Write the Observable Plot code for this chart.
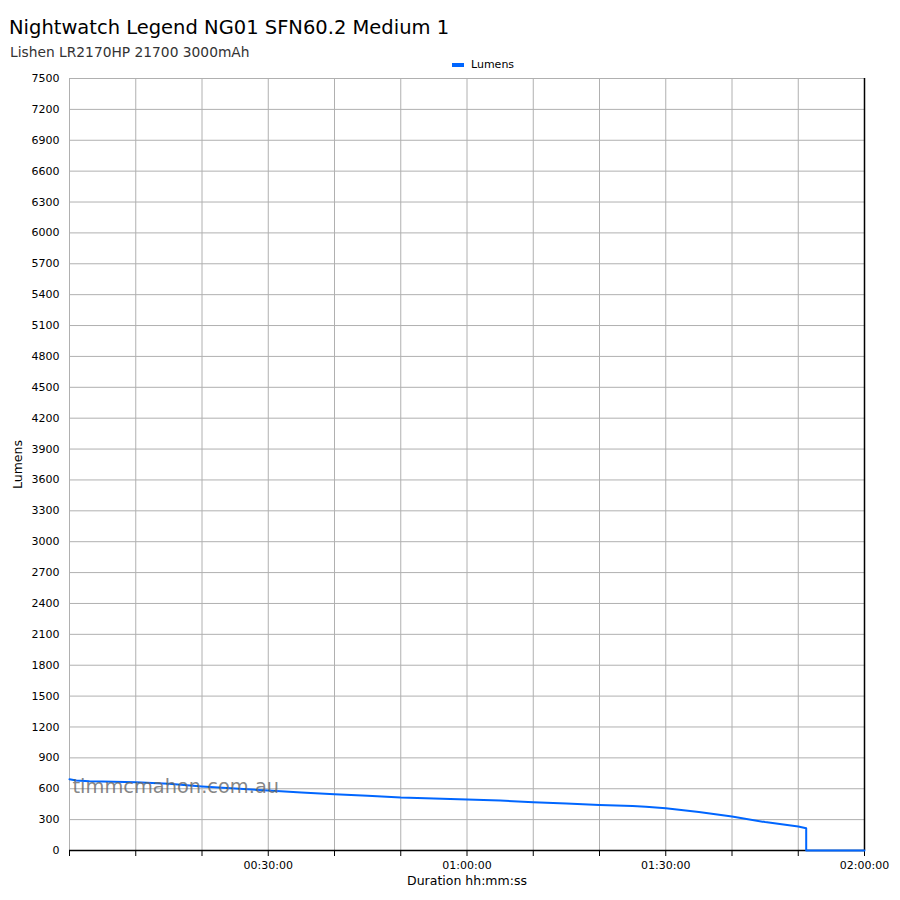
<!DOCTYPE html>
<html>
<head>
<meta charset="utf-8">
<script src="https://cdn.jsdelivr.net/npm/d3@7"></script>
<script src="https://cdn.jsdelivr.net/npm/@observablehq/plot@0.6"></script>
<style>
  html, body { margin: 0; padding: 0; background: #fff; }
  body { width: 900px; height: 900px; position: relative; font-family: "DejaVu Sans", sans-serif; overflow: hidden; }
  #head { position: relative; height: 70px; }
  #title { position: absolute; left: 9px; top: 16px; font-size: 19.5px; color: #000; white-space: nowrap; }
  #subtitle { position: absolute; left: 10px; top: 44px; font-size: 13.8px; color: #333; white-space: nowrap; }
  #legend { position: absolute; left: 452px; top: 58px; font-size: 11px; color: #000; display: flex; align-items: center; white-space: nowrap; }
  #legend .sw { width: 12px; height: 4px; background: #0066ff; margin-right: 7px; }
  #chart svg { display: block; }
</style>
</head>
<body>
<div id="head">
  <div id="title">Nightwatch Legend NG01 SFN60.2 Medium 1</div>
  <div id="subtitle">Lishen LR2170HP 21700 3000mAh</div>
  <div id="legend"><span class="sw"></span><span>Lumens</span></div>
</div>
<div id="chart"></div>
<script>
// Time in minutes since start, lumens
const minutes = [0, 1, 3, 5, 10, 15, 20, 25, 30, 35, 40, 45, 50, 55, 60, 65, 70, 75, 80, 85, 87, 90, 95, 100, 105, 110, 111.2, 111.2, 120];
const lumens  = [692, 680, 672, 670, 662, 648, 622, 602, 583, 564, 546, 533, 515, 505, 496, 485, 468, 457, 443, 432, 426, 411, 373, 330, 276, 233, 216, 0, 0];
const yTicks = d3.range(0, 7501, 300);
const xTicks = d3.range(0, 121, 10);
const xLabelTicks = [30, 60, 90, 120];
const seriesName = "Lumens";
const watermark = "timmcmahon.com.au";

const data = minutes.map((m, i) => ({t: m, v: lumens[i]}));

function fmt(m) {
  if (!xLabelTicks.includes(m)) return "";
  const h = Math.floor(m / 60), mm = m % 60;
  return String(h).padStart(2, "0") + ":" + String(mm).padStart(2, "0") + ":00";
}

const chart = Plot.plot({
  width: 900,
  height: 830,
  marginTop: 8,
  marginBottom: 50,
  marginLeft: 69,
  marginRight: 36,
  style: {fontFamily: "DejaVu Sans, sans-serif", fontSize: "11px", color: "#000", background: "#fff"},
  x: {domain: [0, 120]},
  y: {domain: [0, 7500]},
  marks: [
    Plot.gridX(xTicks, {stroke: "#b0b0b0", strokeOpacity: 1}),
    Plot.gridY(yTicks, {stroke: "#b0b0b0", strokeOpacity: 1}),
    Plot.axisY(yTicks, {tickSize: 0, tickPadding: 10, tickFormat: d3.format("d"), label: null, fontSize: 11}),
    Plot.axisY({label: seriesName, labelAnchor: "center", labelArrow: "none", labelOffset: 56, ticks: [], fontSize: 12.5}),
    Plot.axisX(xTicks, {tickSize: 6, tickPadding: 5, tickFormat: fmt, label: null, fontSize: 11}),
    Plot.axisX({label: "Duration hh:mm:ss", labelAnchor: "center", labelArrow: "none", labelOffset: 34, ticks: [], fontSize: 12.5}),
    Plot.ruleY([0], {stroke: "#000", strokeWidth: 1.5}),
    Plot.ruleX([120], {stroke: "#000", strokeWidth: 1.5}),
    Plot.line(data, {x: "t", y: "v", stroke: "#0066ff", strokeWidth: 2}),
    Plot.text([watermark], {frameAnchor: "bottom-left", dx: 3, dy: -58, textAnchor: "start", lineAnchor: "bottom", fontSize: 19.4, fill: "#666", fillOpacity: 0.8})
  ]
});
document.getElementById("chart").appendChild(chart);
</script>
</body>
</html>
